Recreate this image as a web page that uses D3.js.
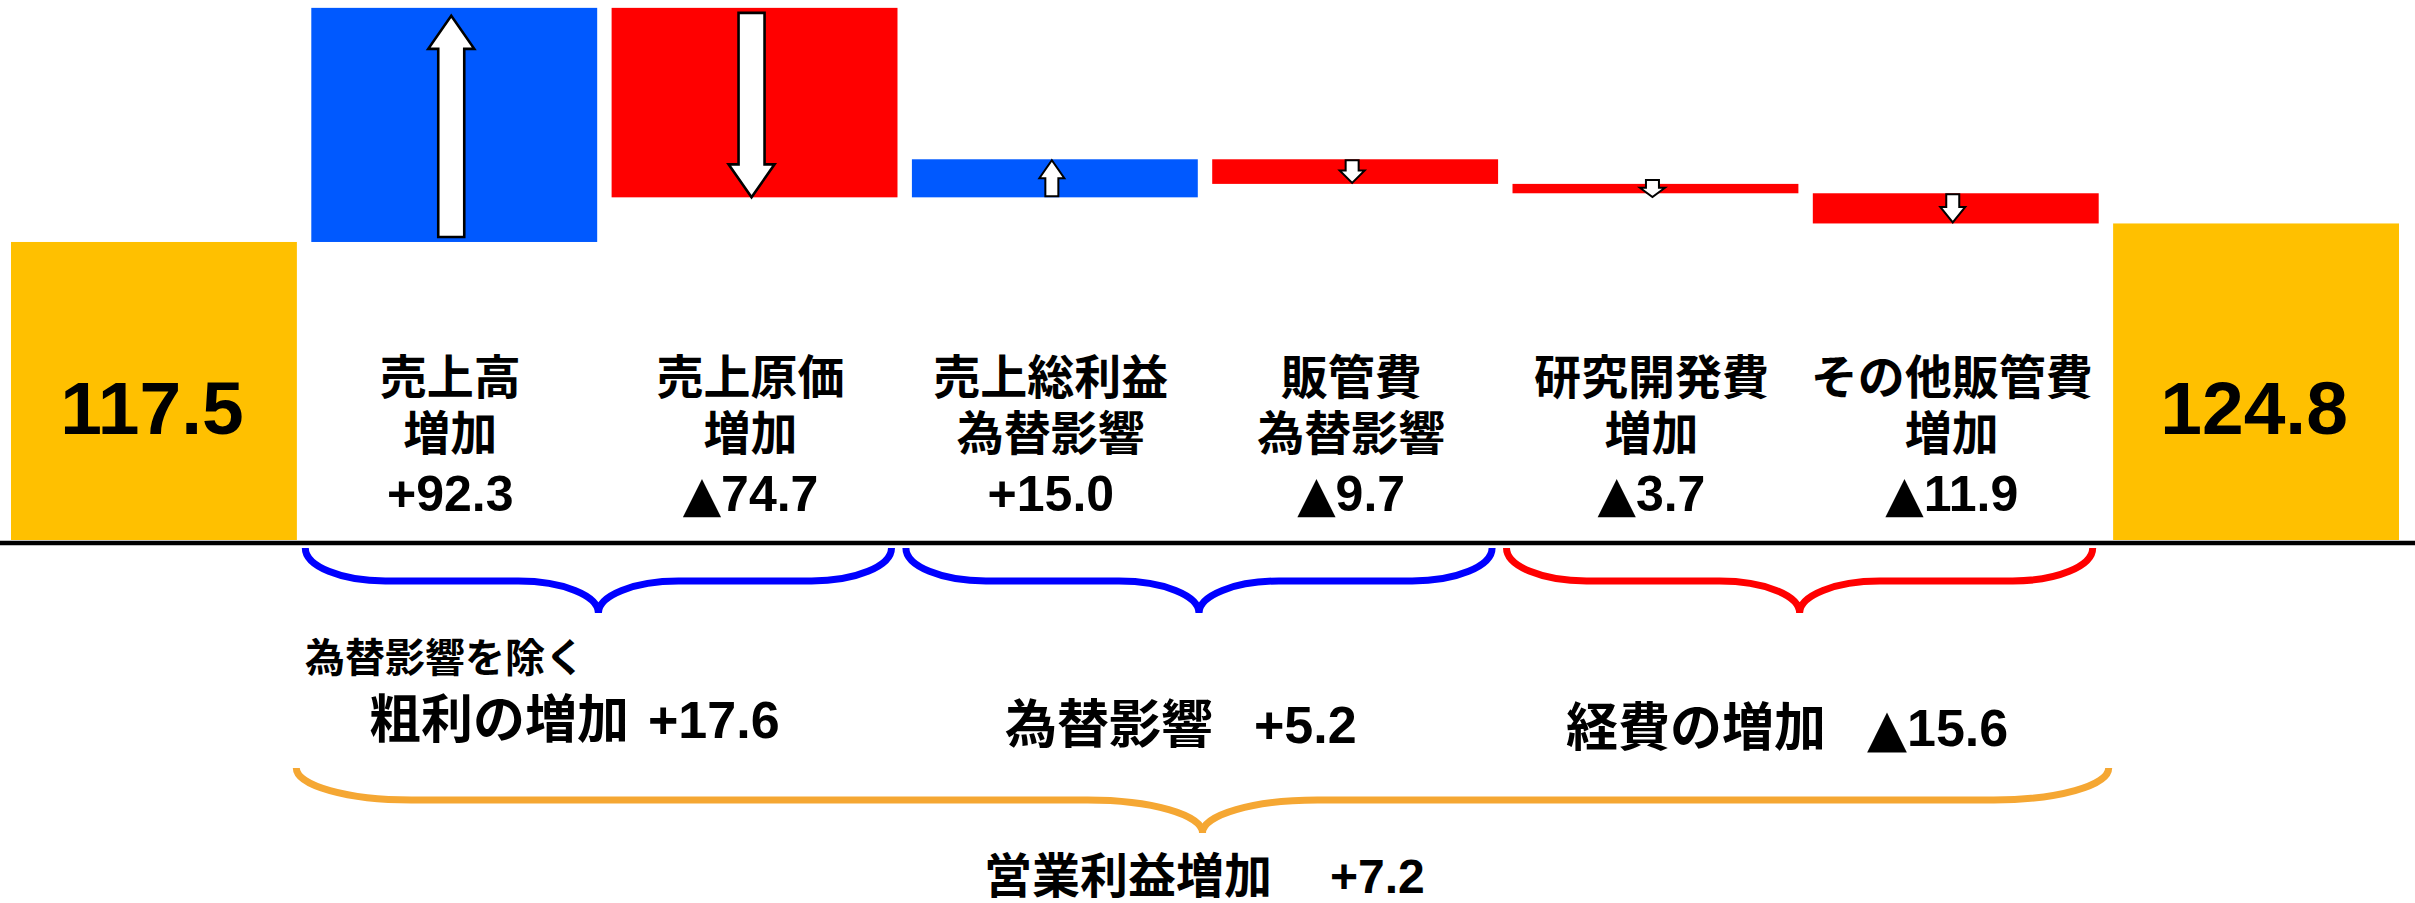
<!DOCTYPE html>
<html>
<head>
<meta charset="utf-8">
<script src="https://cdn.jsdelivr.net/npm/d3@7"></script>
<style>
  html, body { margin: 0; padding: 0; background: #ffffff; }
  svg { display: block; }
  text { font-family: "Liberation Sans", Arial, "Noto Sans CJK JP", sans-serif; font-weight: bold; fill: #000; }
  tspan.tri { font-family: "DejaVu Sans", sans-serif; font-weight: normal; }
</style>
</head>
<body>
<svg id="chart" width="2415" height="903"></svg>
<script>
// ---- data ----
const categories = ["前期", "売上高増加", "売上原価増加", "売上総利益為替影響", "販管費為替影響", "研究開発費増加", "その他販管費増加", "当期"];
const labelLine1 = ["", "売上高", "売上原価", "売上総利益", "販管費", "研究開発費", "その他販管費", ""];
const labelLine2 = ["", "増加", "増加", "為替影響", "為替影響", "増加", "増加", ""];
const values = [117.5, 92.3, -74.7, 15.0, -9.7, -3.7, -11.9, 124.8];
const valueLabels = ["117.5", "+92.3", "▲74.7", "+15.0", "▲9.7", "▲3.7", "▲11.9", "124.8"];
const barTypes = ["total", "delta", "delta", "delta", "delta", "delta", "delta", "total"];

const groupFrom = [1, 3, 5, 1];
const groupTo = [2, 4, 6, 6];
const groupKinds = ["blue", "blue", "red", "orange"];
const groupTitles = ["粗利の増加", "為替影響", "経費の増加", "営業利益増加"];
const groupValues = ["+17.6", "+5.2", "▲15.6", "+7.2"];
const groupNote = "為替影響を除く";

// ---- setup ----
const W = 2415, H = 903;
const svg = d3.select("#chart");
const x = d3.scaleBand().domain(categories).range([11, 2399]).paddingInner(0.048).paddingOuter(0);
const y = d3.scaleLinear().domain([0, 212.9]).range([540, 0]);
const bw = x.bandwidth();

const colors = { total: "#FFC000", pos: "#0059FF", neg: "#FF0000" };
const braceColors = { blue: "#0000FF", red: "#FF0000", orange: "#F5A733" };

// write a label, putting a leading ▲ into its own tspan
function setLabel(sel, accessor) {
  sel.each(function (d, i) {
    const s = accessor(d, i);
    const t = d3.select(this);
    t.text(null);
    if (s.startsWith("▲")) {
      t.append("tspan").attr("class", "tri").text("▲");
      t.append("tspan").text(s.slice(1));
    } else {
      t.text(s);
    }
  });
}

// waterfall computation
let cum = 0;
const bars = values.map((v, i) => {
  let y0, y1;
  if (barTypes[i] === "total") { y0 = 0; y1 = v; cum = v; }
  else { y0 = cum; y1 = cum + v; cum += v; }
  return { cat: categories[i], v, y0, y1, type: barTypes[i], i };
});

// bars
svg.append("g").selectAll("rect").data(bars).join("rect")
  .attr("x", d => x(d.cat))
  .attr("width", bw)
  .attr("y", d => y(Math.max(d.y0, d.y1)))
  .attr("height", d => Math.abs(y(d.y0) - y(d.y1)))
  .attr("fill", d => d.type === "total" ? colors.total : (d.v > 0 ? colors.pos : colors.neg));

// arrows inside delta bars
function arrowPath(d) {
  const cx = x(d.cat) + bw / 2 - 3;
  const top = y(Math.max(d.y0, d.y1));
  const bot = y(Math.min(d.y0, d.y1));
  const h = bot - top;
  const up = d.v > 0;
  let tip, base, hw, sw, hl;
  if (h > 100) {
    hw = 46; sw = 26; hl = 33;
    if (up) { tip = top + 8; base = bot - 5; }
    else { base = top + 5; tip = bot; }
  } else {
    const len = Math.max(17, h - 2);
    const mid = (top + bot) / 2;
    hw = 25; sw = 13; hl = Math.min(18, len * 0.55);
    if (up) { tip = mid - len / 2; base = mid + len / 2; }
    else { base = mid - len / 2; tip = mid + len / 2; }
  }
  const s = up ? 1 : -1;
  const hb = tip + s * hl;
  const pts = [
    [cx - sw / 2, base], [cx - sw / 2, hb], [cx - hw / 2, hb], [cx, tip],
    [cx + hw / 2, hb], [cx + sw / 2, hb], [cx + sw / 2, base]
  ];
  return "M" + pts.map(p => p.join(",")).join("L") + "Z";
}
svg.append("g").selectAll("path").data(bars.filter(d => d.type === "delta")).join("path")
  .attr("d", arrowPath)
  .attr("fill", "#fff")
  .attr("stroke", "#000")
  .attr("stroke-width", d => Math.abs(y(d.y0) - y(d.y1)) > 100 ? 2.6 : 2)
  .attr("stroke-linejoin", "miter");

// baseline
svg.append("line")
  .attr("x1", 0).attr("x2", W)
  .attr("y1", y(0) + 3).attr("y2", y(0) + 3)
  .attr("stroke", "#000").attr("stroke-width", 4.5);

// total labels
svg.append("g").selectAll("text").data(bars.filter(d => d.type === "total")).join("text")
  .attr("x", d => x(d.cat) + bw / 2 - 2)
  .attr("y", 434)
  .attr("text-anchor", "middle")
  .attr("font-size", 75)
  .text(d => valueLabels[d.i]);

// category labels (3 lines)
const deltas = bars.filter(d => d.type === "delta");
const lab = svg.append("g");
lab.selectAll("text.l1").data(deltas).join("text").attr("class", "l1")
  .attr("x", d => x(d.cat) + bw / 2 - 4).attr("y", 394)
  .attr("text-anchor", "middle").attr("font-size", 47)
  .text(d => labelLine1[d.i]);
lab.selectAll("text.l2").data(deltas).join("text").attr("class", "l2")
  .attr("x", d => x(d.cat) + bw / 2 - 4).attr("y", 450)
  .attr("text-anchor", "middle").attr("font-size", 47)
  .text(d => labelLine2[d.i]);
lab.selectAll("text.l3").data(deltas).join("text").attr("class", "l3")
  .attr("x", d => x(d.cat) + bw / 2 - 4).attr("y", 511)
  .attr("text-anchor", "middle").attr("font-size", 50)
  .call(setLabel, d => valueLabels[d.i]);

// braces
function bracePath(x0, x1, yTop, yMid, yTip, r) {
  const xc = (x0 + x1) / 2;
  const k = 0.552;
  const h1 = yMid - yTop, h2 = yTip - yMid;
  return [
    `M${x0},${yTop}`,
    `C${x0},${yTop + k * h1} ${x0 + r * (1 - k)},${yMid} ${x0 + r},${yMid}`,
    `L${xc - r},${yMid}`,
    `C${xc - r * (1 - k)},${yMid} ${xc},${yTip - k * h2} ${xc},${yTip}`,
    `M${xc},${yTip}`,
    `C${xc},${yTip - k * h2} ${xc + r * (1 - k)},${yMid} ${xc + r},${yMid}`,
    `L${x1 - r},${yMid}`,
    `C${x1 - r * (1 - k)},${yMid} ${x1},${yTop + k * h1} ${x1},${yTop}`
  ].join(" ");
}
const braceData = groupFrom.map((f, i) => {
  const big = groupKinds[i] === "orange";
  const x0 = x(categories[f]) - (big ? 15 : 6);
  const x1 = x(categories[groupTo[i]]) + bw + (big ? 10 : -6);
  return { x0, x1, big, color: braceColors[groupKinds[i]] };
});
svg.append("g").selectAll("path").data(braceData).join("path")
  .attr("d", d => d.big ? bracePath(d.x0, d.x1, 768, 800, 833, 115) : bracePath(d.x0, d.x1, 548, 581, 613, 80))
  .attr("fill", "none")
  .attr("stroke", d => d.color)
  .attr("stroke-width", 7);

// group texts
const gt = svg.append("g");
gt.append("text").attr("x", 305).attr("y", 672).attr("font-size", 40).text(groupNote);
const titlePos = [[369, 738, 52], [1005, 743, 52], [1566, 746, 52], [984, 893, 48]];
const valuePos = [[648, 738, 52], [1254, 743, 52], [1867, 746, 52], [1330, 893, 48]];
gt.selectAll("text.gt").data(groupTitles).join("text").attr("class", "gt")
  .attr("x", (d, i) => titlePos[i][0]).attr("y", (d, i) => titlePos[i][1])
  .attr("font-size", (d, i) => titlePos[i][2])
  .text(d => d);
gt.selectAll("text.gv").data(groupValues).join("text").attr("class", "gv")
  .attr("x", (d, i) => valuePos[i][0]).attr("y", (d, i) => valuePos[i][1])
  .attr("font-size", (d, i) => valuePos[i][2])
  .call(setLabel, d => d);
</script>
</body>
</html>
